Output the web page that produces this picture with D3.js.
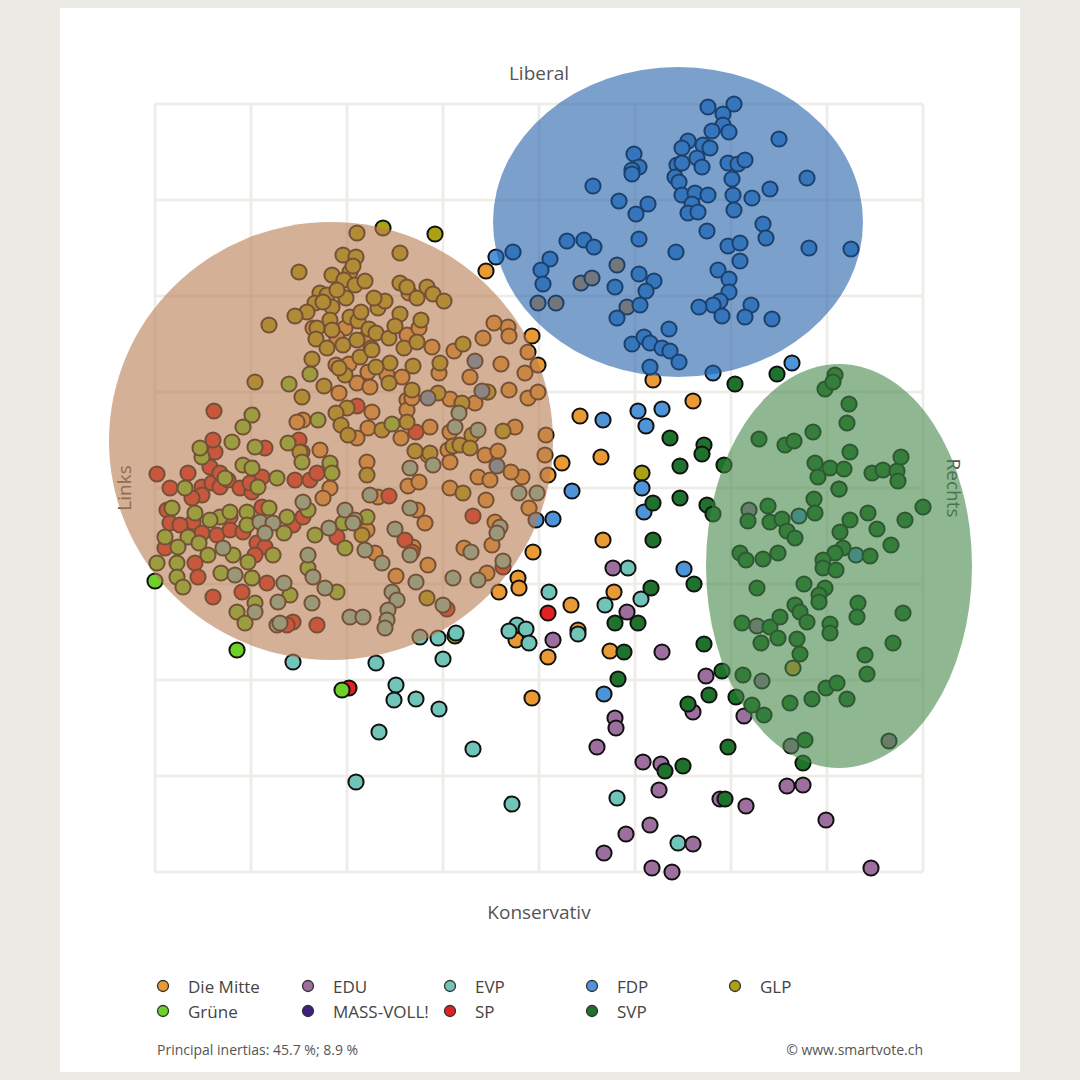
<!DOCTYPE html>
<html>
<head>
<meta charset="utf-8">
<script src="https://cdn.jsdelivr.net/npm/d3@7"></script>
<style>
  html, body { margin: 0; padding: 0; background: #ebeae5; }
  #chart { width: 1080px; height: 1080px; }
</style>
</head>
<body>
<div id="chart"></div>
<script>
// smartvote-Landkarte: Kandidierende im Raum der ersten beiden Hauptachsen.
// Werte = Koordinaten auf den Hauptachsen (Einheit: 1/96 Gitterzelle, Ursprung Mitte).

const gridTicks = [-384, -288, -192, -96, 0, 96, 192, 288, 384];

const parties = ["Die Mitte", "EDU", "EVP", "FDP", "GLP", "Grüne", "MASS-VOLL!", "SP", "SVP"];
const partyColors = ["#e99a35", "#9d6f9f", "#70c4b8", "#4d94d8", "#aaa212", "#70d02a", "#3b2080", "#e02222", "#1f722b"];

// Gruppen-Ellipsen: [cx, cy, rx, ry]
const clusterBrown = [-208, 47, 222, 219];
const clusterBlue = [139, 266, 185, 155];
const clusterGreen = [300, -78, 133, 202];

const massVoll = [[300, -1]];

const dieMitte = [
  [-53,217],[-7,152],[-1,123],[114,108],[154,87],[41,72],[62,31],[23,25],[64,-52],[-6,-64],
  [-21,-90],[-40,-104],[32,-117],[75,-104],[39,-142],[-23,-152],[9,-169],[71,-163],[-7,-210],
  [78,223],[42,205],[53,210],[-1,185],[17,185],[88,181],[254,-180],
  [-130,195],[-226,160],[-194,160],[-202,150],[-173,150],[-168,140],[-132,153],[-107,141],
  [-203,123],[-190,124],[-171,116],[-182,105],[-169,101],[-152,113],[-137,111],[-132,88],
  [-89,89],[-167,76],[-171,60],[-138,50],[-109,61],[-89,56],[-236,68],[-242,66],[-219,38],
  [-56,150],[-31,161],[-11,136],[-38,124],[-69,111],[-30,98],[-11,90],[-1,96],[-52,96],[-64,85],
  [-24,61],[7,53],[-132,78],[-127,90],[-182,50],[-111,33],[-91,38],[-89,26],[-54,33],[-41,37],
  [6,33],[9,13],[-17,11],[-61,11],[-49,8],[-172,26],[-131,2],[-120,6],[-89,0],[-53,-12],
  [-161,-9],[-122,-22],[-114,-35],[-44,-34],[-47,-57],[-172,-42],[-164,-65],[-126,-59],
  [-111,-77],[-52,-85],[-143,-88],[-209,0],[-216,-10],[-30,152],[-45,165],[-14,115],
  [-120,160],[-100,115],[-85,137],[-28,16],[-10,-20],[-75,-60],[-20,-100],[-200,95]
];

const edu = [
  [123,-164],[167,-188],[154,-224],[205,-228],[76,-230],[77,-240],[58,-259],[104,-274],
  [122,-276],[120,-302],[181,-311],[207,-318],[248,-298],[264,-297],[287,-332],[111,-337],
  [87,-346],[154,-356],[65,-365],[113,-380],[133,-384],[332,-380],[74,-80],[88,-124],[14,-152],
  [210,-22],[218,-138],[223,-193],[252,-258],[350,-253]
];

const evp = [
  [89,-80],[10,-104],[66,-117],[102,-111],[-22,-137],[-30,-143],[-13,-141],[-10,-155],
  [-83,-145],[-101,-150],[39,-146],[-96,-171],[-163,-175],[-246,-174],[-143,-197],[-145,-212],
  [-123,-211],[-100,-221],[-160,-244],[-66,-261],[-183,-294],[-27,-316],[78,-310],[139,-355],
  [-80,75],[-61,58],[-84,61],[-106,23],[-129,20],[-2,-5],[-169,-7],[-129,-20],[-39,-39],
  [-42,-45],[-194,-22],[-184,-32],[-174,-62],[-157,-75],[-144,-41],[-129,-67],[-68,-64],
  [-61,-92],[-86,-90],[-123,-94],[-147,-104],[-142,-112],[-96,-117],[-151,-122],[-152,-132],
  [-154,-140],[-189,-129],[-176,-129],[-119,-149],[-236,-14],[-186,-35],[-279,-34],[-266,-35],
  [-274,-45],[-316,-60],[-304,-87],[-231,-67],[-226,-89],[-214,-100],[-261,-114],[-227,-115],
  [-262,-137],[-284,-124],[-259,-135],[-20,-5],[-36,-73],[-210,-40],[-255,-95]
];

const fdp = [
  [169,381],[195,384],[184,374],[184,363],[173,357],[190,356],[240,349],[95,334],[100,321],
  [93,318],[93,314],[149,347],[143,340],[164,343],[171,340],[138,323],[143,325],[158,330],
  [163,321],[136,311],[140,306],[189,325],[199,324],[206,328],[193,309],[268,310],[54,302],
  [231,299],[143,293],[156,295],[169,293],[153,284],[149,275],[159,276],[194,293],[195,278],
  [213,290],[80,287],[109,284],[97,274],[224,264],[227,250],[168,257],[100,249],[28,247],
  [45,248],[55,241],[137,236],[189,242],[201,245],[270,240],[312,239],[-26,236],[-43,231],
  [11,229],[2,218],[4,204],[201,227],[179,218],[190,209],[190,196],[181,187],[174,183],
  [183,172],[212,183],[206,171],[233,169],[160,181],[100,214],[115,207],[107,197],[101,183],
  [76,201],[78,170],[130,159],[93,144],[105,151],[111,145],[123,140],[131,137],[140,126],
  [111,121],[174,115],[253,125],
  [64,68],[99,77],[123,79],[107,62],[103,0],[105,-24],[33,-3],[14,-31],[145,-81],[65,-206],
  [260,-28],[317,-67],[-64,127],[-57,97],[-111,90],[-42,22],[-3,-32]
];

const glp = [
  [-156,260],[-104,254],[103,15],[-84,-148],
  [-196,233],[-183,231],[-139,235],[-182,255],[-240,216],[-207,213],[-189,216],[-195,208],
  [-184,203],[-174,207],[-193,190],[-219,195],[-212,193],[-224,185],[-207,181],[-232,176],
  [-244,172],[-270,163],[-209,168],[-189,171],[-181,167],[-222,160],[-207,158],[-223,149],
  [-196,143],[-212,140],[-170,159],[-163,155],[-182,148],[-139,205],[-132,201],[-161,180],
  [-154,187],[-139,174],[-122,190],[-112,201],[-106,194],[-95,187],[-76,144],[-135,140],
  [-122,146],[-99,125],[-126,122],[-149,125],[-163,121],[-227,129],[-179,131],[-194,113],
  [-215,102],[-284,106],[-237,91],[-127,98],[-150,105],[-101,95],[-77,85],[-192,80],[-203,75],
  [-198,63],[-191,53],[-157,58],[-132,66],[-124,37],[-109,35],[-86,42],[-237,36],[-51,96],
  [-67,53],[-79,43],[-69,40],[-36,57],[-172,13],[-76,-5],[-177,-47],[-112,-110],
  [-239,36],[-209,21],[-165,190],[-150,150],[-118,168],[-200,120],
  [-186,222],[-202,198],[-178,176],[-216,186],[-144,162],[-167,138]
];

const gruene = [
  [-384,-93],[-302,-162],[-197,-202],
  [-337,31],[-354,0],[-344,-25],[-319,-29],[-309,-24],[-314,10],[-296,23],[-287,20],[-262,10],
  [-281,1],[-292,-24],[-292,-37],[-329,-32],[-351,-49],[-361,-59],[-374,-49],[-382,-75],
  [-362,-75],[-362,-89],[-356,-99],[-331,-67],[-306,-67],[-291,-74],[-287,-90],[-266,-67],
  [-252,-29],[-224,-47],[-231,-80],[-249,-107],[-284,-115],[-302,-124],[-294,-135],[-194,-60],
  [-196,-35],[-202,-104],[-231,-22],[-237,26],[-209,25],[-207,15],[-251,45],[-307,46],
  [-339,40],[-284,41],[-229,114],[-250,104],[-221,68],[-147,64],[-287,73],[-296,61],[-172,-29],
  [-367,-20],[-340,-55],[-318,-85],[-270,-20],[-255,-45]
];

const sp = [
  [-382,14],[-351,15],[-369,0],[-372,-22],[-369,-35],[-374,-60],[-337,1],[-337,-7],[-329,21],
  [-327,5],[-319,15],[-319,1],[-311,8],[-299,0],[-287,-4],[-277,11],[-277,-19],[-289,5],
  [-274,40],[-324,36],[-347,-10],[-346,-34],[-359,-37],[-337,-45],[-322,-47],[-309,-29],
  [-309,-42],[-296,-44],[-344,-75],[-341,-89],[-326,-109],[-282,-55],[-274,-59],[-284,-67],
  [-272,-95],[-297,-104],[-246,-37],[-244,8],[-229,8],[-222,15],[-202,-49],[-246,-134],
  [-252,-137],[-222,-137],[-236,-29],[-325,77],[-326,48],[-182,82],[-123,56],[-240,48],
  [-150,-8],[-66,-28],[-134,-52],[-127,-64],[-36,-79],[-92,-121],
  [-190,-200],[9,-125]
];

const svp = [
  [296,113],[286,99],[294,106],[310,84],[308,65],[220,49],[246,43],[255,47],[274,56],[311,36],
  [276,25],[291,20],[305,19],[279,11],[333,15],[344,18],[358,17],[362,31],[359,7],[300,-1],
  [275,-11],[276,-25],[229,-18],[209,-33],[231,-34],[243,-31],[248,-43],[256,-50],[329,-25],
  [311,-32],[301,-44],[338,-41],[366,-32],[384,-19],[352,-57],[304,-60],[296,-65],[284,-72],
  [284,-80],[297,-82],[331,-68],[201,-65],[207,-72],[224,-71],[239,-65],[218,-100],[265,-96],
  [286,-100],[280,-107],[280,-114],[319,-115],[318,-129],[364,-125],[256,-117],[261,-124],
  [268,-134],[203,-135],[231,-139],[241,-129],[222,-155],[239,-150],[258,-151],[261,-166],
  [291,-136],[291,-145],[326,-167],[354,-155],[204,-187],[183,-183],[170,-207],[197,-209],
  [213,-217],[225,-227],[251,-215],[273,-211],[287,-200],[298,-195],[308,-211],[328,-186],
  [266,-252],[189,-259],[264,-275],[165,-156],[185,23],[168,-17],[174,-26],[196,104],[238,114],
  [165,43],[163,34],
  [131,50],[141,22],[141,-10],[114,-15],[114,-52],[155,-96],[112,-100],[76,-135],[99,-135],
  [85,-164],[79,-191],[149,-216],[144,-278],[126,-283],[186,-311]
];

// Zeichenreihenfolge (oben = zuletzt)
const layers = [
  ["MASS-VOLL!", massVoll], ["Die Mitte", dieMitte], ["SP", sp], ["GLP", glp], ["Grüne", gruene],
  ["EVP", evp], ["FDP", fdp], ["EDU", edu], ["SVP", svp]
];

const FONT = "'Open Sans', 'Noto Sans', sans-serif";
const W = 1080, H = 1080;
const color = d3.scaleOrdinal().domain(parties).range(partyColors);
const x = d3.scaleLinear().domain([-384, 384]).range([155, 923]);
const y = d3.scaleLinear().domain([-384, 384]).range([872, 104]);

const svg = d3.select("#chart").append("svg")
  .attr("width", W).attr("height", H).attr("viewBox", `0 0 ${W} ${H}`);

// Grund & weisses Blatt
svg.append("rect").attr("width", W).attr("height", H).attr("fill", "#ebeae5");
svg.append("rect").attr("x", 60).attr("y", 8).attr("width", 960).attr("height", 1064).attr("fill", "#ffffff");

// Gitter
const grid = svg.append("g").attr("stroke", "#eeece6").attr("stroke-width", 2.6);
gridTicks.forEach(t => {
  grid.append("line").attr("x1", x(t)).attr("x2", x(t)).attr("y1", y(-384)).attr("y2", y(384));
  grid.append("line").attr("x1", x(-384)).attr("x2", x(384)).attr("y1", y(t)).attr("y2", y(t));
});

// Achsenbeschriftungen (liegen unter den Ellipsen)
const axLab = `font:400 19px ${FONT};fill:#555`;
svg.append("text").attr("x", x(0)).attr("y", 73).attr("text-anchor", "middle")
  .attr("dominant-baseline", "central").attr("style", axLab).text("Liberal");
svg.append("text").attr("x", x(0)).attr("y", 912).attr("text-anchor", "middle")
  .attr("dominant-baseline", "central").attr("style", axLab).text("Konservativ");
svg.append("text").attr("transform", `translate(124,${y(0)}) rotate(-90)`).attr("text-anchor", "middle")
  .attr("dominant-baseline", "central").attr("style", axLab).text("Links");
svg.append("text").attr("transform", `translate(954,${y(0)}) rotate(90)`).attr("text-anchor", "middle")
  .attr("dominant-baseline", "central").attr("style", axLab).text("Rechts");

// Punkte
const pts = svg.append("g");
layers.forEach(([name, arr]) => {
  pts.selectAll(null).data(arr).enter().append("circle")
    .attr("cx", d => x(d[0])).attr("cy", d => y(d[1])).attr("r", 7.6)
    .attr("fill", color(name)).attr("stroke", "#111").attr("stroke-width", 2);
});

// Ellipsen halbtransparent über den Punkten
const ell = (c, fill) => svg.append("ellipse")
  .attr("cx", x(c[0])).attr("cy", y(c[1]))
  .attr("rx", x(c[0] + c[2]) - x(c[0])).attr("ry", y(c[1]) - y(c[1] + c[3]))
  .attr("fill", fill).attr("fill-opacity", 0.6);
ell(clusterBrown, "#b77b50");
ell(clusterBlue, "#2561aa");
ell(clusterGreen, "#448748");

// Legende
const legCols = [163, 308, 450, 592, 735];
const lg = svg.append("g");
parties.forEach((p, i) => {
  const cx = legCols[i % 5], cy = i < 5 ? 986 : 1011;
  lg.append("circle").attr("cx", cx).attr("cy", cy).attr("r", 5.5)
    .attr("fill", color(p)).attr("stroke", "#333").attr("stroke-width", 1.3);
  lg.append("text").attr("x", cx + 25).attr("y", cy).attr("dominant-baseline", "central")
    .attr("style", `font:400 17px ${FONT};fill:#444`).text(p);
});

svg.append("text").attr("x", 157).attr("y", 1049).attr("dominant-baseline", "central")
  .attr("style", `font:400 14px ${FONT};fill:#555`).text("Principal inertias: 45.7 %; 8.9 %");
svg.append("text").attr("x", 923).attr("y", 1049).attr("text-anchor", "end").attr("dominant-baseline", "central")
  .attr("style", `font:400 14px ${FONT};fill:#555`).text("© www.smartvote.ch");
</script>
</body>
</html>
